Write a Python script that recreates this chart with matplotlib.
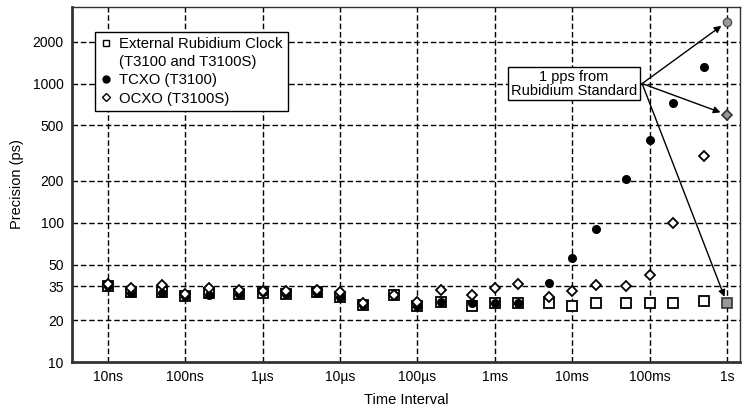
import matplotlib
matplotlib.use("Agg")
import matplotlib.pyplot as plt
from matplotlib.lines import Line2D

plt.rcParams['font.family'] = ['Liberation Sans', 'DejaVu Sans']

# time interval (s), 1-2-5 steps from 10 ns to 1 s
intervals = [1e-8, 2e-8, 5e-8, 1e-7, 2e-7, 5e-7, 1e-6, 2e-6, 5e-6,
             1e-5, 2e-5, 5e-5, 1e-4, 2e-4, 5e-4, 1e-3, 2e-3, 5e-3,
             1e-2, 2e-2, 5e-2, 1e-1, 2e-1, 5e-1, 1.0]

rubidium = [34.9, 31.8, 31.8, 30.0, 31.2, 31.0, 31.5, 31.0, 31.8,
            29.3, 25.5, 30.1, 25.1, 27.0, 25.2, 26.7, 26.7, 26.7,
            25.2, 26.7, 26.7, 26.7, 26.7, 27.4, 26.4]
tcxo = [34.9, 31.5, 31.5, 30.0, 30.5, 31.0, 32.0, 31.0, 31.5,
        29.3, 25.8, 30.1, 25.3, 27.2, 26.7, 26.7, 26.7, 37.1,
        55.5, 90.6, 205, 396, 731, 1320, 2780]
ocxo = [36.5, 33.9, 35.5, 31.0, 33.9, 32.7, 32.3, 32.3, 33.0,
        31.8, 26.7, 30.1, 27.0, 32.7, 30.4, 34.1, 36.5, 29.3,
        32.3, 35.9, 34.9, 42.0, 99.5, 301, 597]

x_ticks = [1e-8, 1e-7, 1e-6, 1e-5, 1e-4, 1e-3, 1e-2, 1e-1, 1.0]
x_labels = ['10ns', '100ns', '1µs', '10µs', '100µs', '1ms', '10ms', '100ms', '1s']
y_ticks = [10, 20, 35, 50, 100, 200, 500, 1000, 2000]

fig = plt.figure(figsize=(7.42, 4.08), dpi=100)
ax = fig.add_axes([72 / 742, 1 - 362 / 408, 668 / 742, 355 / 408])
ax.set_xscale('log')
ax.set_yscale('log')
ax.set_xlim(10 ** -8.465, 10 ** 0.168)
ax.set_ylim(10, 3550)

# dashed grid at the labelled ticks only
for t in x_ticks:
    ax.axvline(t, color='black', lw=1, ls=(0, (4, 2)), zorder=1)
for t in y_ticks[1:]:
    ax.axhline(t, color='black', lw=1, ls=(0, (4, 2)), zorder=1)

n = len(intervals) - 1  # last point (1 s) is the reference, drawn grey
ax.plot(intervals[:n], rubidium[:n], 's', ms=6.5, mfc='white', mec='black', mew=1.3, zorder=3)
ax.plot(intervals[:n], tcxo[:n], 'o', ms=5.5, mfc='black', mec='black', zorder=4)
ax.plot(intervals[:n], ocxo[:n], 'D', ms=5.5, mfc='white', mec='black', mew=1.3, zorder=5)
ax.plot(intervals[n:], rubidium[n:], 's', ms=6.5, mfc='#999999', mec='#333333', mew=1.2, zorder=3)
ax.plot(intervals[n:], tcxo[n:], 'o', ms=6, mfc='#999999', mec='#555555', mew=1, zorder=4)
ax.plot(intervals[n:], ocxo[n:], 'D', ms=5.5, mfc='#999999', mec='#333333', mew=1.2, zorder=5)

ax.set_xticks(x_ticks)
ax.set_xticklabels(x_labels)
ax.set_yticks(y_ticks)
ax.set_yticklabels([str(t) for t in y_ticks])
ax.minorticks_off()
ax.tick_params(length=0, labelsize=10, pad=6)
ax.set_xlabel('Time Interval', fontsize=10.5, labelpad=6)
ax.set_ylabel('Precision (ps)', fontsize=10.5, labelpad=6)

for side in ['left', 'bottom']:
    ax.spines[side].set_linewidth(2)
    ax.spines[side].set_color('#333333')
for side in ['top', 'right']:
    ax.spines[side].set_linewidth(1)
    ax.spines[side].set_color('#333333')

handles = [
    Line2D([], [], ls='none', marker='s', ms=5, mfc='white', mec='black', mew=1),
    Line2D([], [], ls='none', marker=None),
    Line2D([], [], ls='none', marker='o', ms=5, mfc='black', mec='black'),
    Line2D([], [], ls='none', marker='D', ms=4.5, mfc='white', mec='black', mew=1),
]
labels = ['External Rubidium Clock', '(T3100 and T3100S)', 'TCXO (T3100)', 'OCXO (T3100S)']
leg = ax.legend(handles, labels, loc='upper left', bbox_to_anchor=(0.034, 0.93),
                borderaxespad=0, fontsize=10.7, handlelength=0.8, handletextpad=0.5,
                labelspacing=0.28, borderpad=0.35, fancybox=False, framealpha=1,
                edgecolor='black')
leg.get_frame().set_linewidth(1)
leg.set_zorder(6)

# annotation box with three arrows to the 1 s reference points
ax.text(0.0105, 1000, '1 pps from\nRubidium Standard', ha='center', va='center',
        fontsize=10.5, linespacing=1.0, zorder=7,
        bbox=dict(boxstyle='square,pad=0.18', fc='white', ec='black', lw=1))
for yv in [tcxo[n], ocxo[n], rubidium[n]]:
    ax.annotate('', xy=(intervals[n], yv), xytext=(0.08, 1000),
                arrowprops=dict(arrowstyle='-|>', color='black', lw=1,
                                shrinkA=0, shrinkB=5, mutation_scale=10),
                zorder=7)

fig.savefig('out.png', dpi=100)
